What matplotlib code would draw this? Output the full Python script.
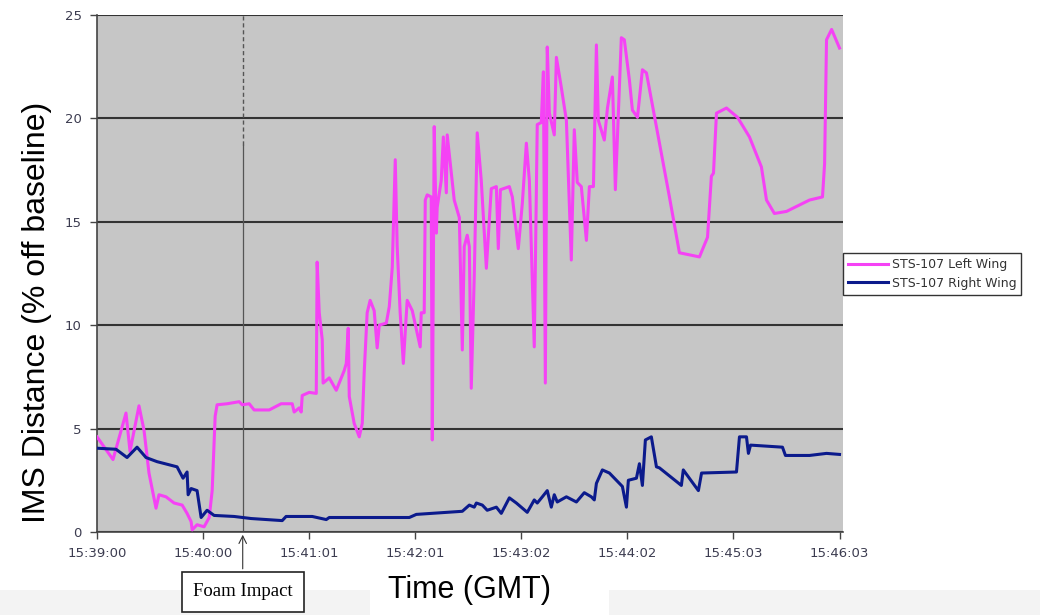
import matplotlib
matplotlib.use("Agg")
import matplotlib.pyplot as plt
from matplotlib.patches import Rectangle

# seconds after 15:39:00 and IMS distance (% off baseline)
left_t = [0, 9.1, 16.5, 18.8, 23.9, 26.8, 29.6, 33.6, 35.3, 39.3, 43.9, 48.5, 51.3, 53.6, 54.2,
          57.0, 61.0, 63.9, 65.6, 67.3, 68.4, 74.1, 81.0, 82.7, 86.7, 89.5, 98.1, 104.9, 111.2,
          112.3, 115.2, 116.3, 116.9, 120.9, 124.9, 125.4, 126.6, 128.3, 128.8, 132.3, 136.3,
          140.8, 142.0, 143.1, 143.7, 146.5, 149.4, 151.1, 152.2, 153.9, 155.6, 157.9, 159.6,
          160.8, 164.8, 166.5, 168.2, 169.9, 171.0, 172.7, 174.5, 176.7, 179.6, 184.1, 184.7,
          186.4, 187.0, 188.1, 190.4, 191.0, 192.1, 193.3, 193.8, 196.1, 197.3, 199.0, 199.5,
          203.5, 206.4, 208.1, 209.2, 210.9, 212.1, 213.2, 214.9, 216.6, 218.9, 221.8, 224.6,
          227.5, 228.6, 229.8, 234.9, 236.6, 240.0, 242.3, 244.6, 246.3, 249.1, 250.8, 253.1,
          254.3, 255.4, 256.5, 257.7, 260.5, 261.7, 264.5, 267.4, 270.2, 271.9, 273.6, 275.9,
          278.8, 280.5, 282.8, 284.5, 285.6, 289.0, 290.8, 293.6, 295.3, 298.7, 300.4, 303.3,
          305.0, 307.9, 310.7, 313.0, 326.1, 331.8, 343.2, 347.8, 350.0, 351.2, 352.9, 358.6,
          364.9, 371.7, 378.5, 381.4, 385.9, 392.8, 405.9, 413.3, 414.5, 415.6, 418.5, 423]
left_v = [4.6, 3.5, 5.75, 3.9, 6.1, 4.9, 2.85, 1.15, 1.8, 1.7, 1.4, 1.3, 0.9, 0.5, 0.1,
          0.35, 0.25, 0.7, 2.0, 5.6, 6.15, 6.2, 6.3, 6.15, 6.2, 5.9, 5.9, 6.2, 6.2,
          5.8, 6.0, 5.8, 6.6, 6.75, 6.7, 13.05, 10.6, 9.3, 7.2, 7.45, 6.85,
          7.8, 8.15, 9.85, 6.55, 5.25, 4.6, 5.25, 7.7, 10.6, 11.2, 10.7, 8.9,
          10.0, 10.1, 10.9, 12.8, 18.0, 13.8, 10.6, 8.15, 11.2, 10.7, 8.95, 10.6,
          10.6, 16.05, 16.3, 16.2, 4.45, 19.6, 14.45, 15.7, 17.0, 19.1, 16.4, 19.2,
          16.05, 15.2, 8.8, 13.8, 14.35, 13.8, 6.95, 12.35, 19.3, 17.0, 12.75, 16.6,
          16.7, 13.7, 16.55, 16.7, 16.2, 13.7, 15.9, 18.8, 17.0, 8.95, 19.7, 19.8,
          22.25, 7.2, 23.45, 20.25, 19.2, 22.95, 21.5, 19.9, 13.15, 19.45, 16.9, 16.7,
          14.1, 16.7, 16.7, 23.55, 19.9, 18.95, 20.5, 22.0, 16.55, 23.9, 23.8, 21.85,
          20.4, 20.05, 22.35, 22.2, 16.2, 13.5, 13.3, 14.25, 17.2, 17.35, 20.25, 20.5,
          20.05, 19.1, 17.65, 16.05, 15.4, 15.5, 16.05, 16.2, 17.8, 23.8, 24.3, 23.4]

right_t = [0, 10.8, 17.1, 22.8, 27.9, 34.2, 45.6, 49.0, 51.3, 51.9, 53.6, 57.0, 59.3, 62.7,
           66.7, 78.1, 87.8, 105.5, 107.7, 122.6, 130.6, 132.3, 177.9, 181.9, 208.1, 212.1,
           214.9, 216.1, 219.5, 222.3, 227.5, 230.3, 234.9, 238.9, 245.1, 249.1, 250.8, 253.7,
           256.5, 258.8, 260.5, 262.2, 267.4, 273.1, 277.6, 281.6, 283.3, 284.5, 287.9, 291.9,
           299.3, 301.6, 302.7, 307.3, 309.0, 310.7, 312.4, 315.8, 318.7, 320.4, 332.9, 334.0,
           342.6, 344.4, 364.3, 366.0, 370.0, 371.1, 372.3, 390.5, 392.2, 405.9, 415.6, 423]
right_v = [4.05, 4.0, 3.6, 4.1, 3.6, 3.4, 3.15, 2.6, 2.9, 1.8, 2.1, 2.0, 0.7, 1.05,
           0.8, 0.75, 0.65, 0.55, 0.75, 0.75, 0.6, 0.7, 0.7, 0.85, 1.0, 1.3,
           1.2, 1.4, 1.3, 1.05, 1.2, 0.9, 1.65, 1.4, 0.95, 1.55, 1.4, 1.7,
           2.0, 1.2, 1.8, 1.45, 1.7, 1.45, 1.9, 1.7, 1.55, 2.35, 3.0, 2.85,
           2.2, 1.2, 2.5, 2.6, 3.3, 2.25, 4.45, 4.6, 3.15, 3.1, 2.25, 3.0,
           2.0, 2.85, 2.9, 4.6, 4.6, 3.8, 4.2, 4.1, 3.7, 3.7, 3.8, 3.75]

tick_t = [0, 60.43, 120.86, 181.29, 241.71, 302.14, 362.57, 423]
tick_labels = ['15:39:00', '15:40:00', '15:41:01', '15:42:01', '15:43:02', '15:44:02',
               '15:45:03', '15:46:03']
foam_t = 83
series_names = ['STS-107 Left Wing', 'STS-107 Right Wing']

fig = plt.figure(figsize=(10.4, 6.15), dpi=100)
fig.patch.set_facecolor('white')

# light slide band at the bottom, with a white patch behind the axis title
fig.add_artist(Rectangle((0, 0), 1, 0.04, transform=fig.transFigure,
                         facecolor='#f3f3f3', edgecolor='none', zorder=0))
fig.add_artist(Rectangle((0.356, 0), 0.23, 0.09, transform=fig.transFigure,
                         facecolor='white', edgecolor='none', zorder=0))

ax = fig.add_axes([0.0933, 0.135, 0.7173, 0.8407])
ax.set_facecolor('#c6c6c6')

ax.plot(left_t, left_v, color='#f542f5', lw=2.2, label=series_names[0], zorder=3)
ax.plot(right_t, right_v, color='#0b1a8c', lw=2.2, label=series_names[1], zorder=3)

ax.set_xlim(0, 425)
ax.set_ylim(0, 25)
ax.set_yticks([0, 5, 10, 15, 20, 25])
ax.set_xticks(tick_t)
ax.set_xticklabels(tick_labels)
ax.grid(axis='y', color='#333333', lw=1.5, zorder=1)
ax.set_axisbelow(True)

for s in ['top', 'right']:
    ax.spines[s].set_visible(False)
for s in ['left', 'bottom']:
    ax.spines[s].set_color('#444444')
    ax.spines[s].set_linewidth(1.2)
ax.tick_params(axis='both', direction='out', length=5, width=1, color='#444444',
               labelsize=9.5, labelcolor='#3c3c50', pad=6)

# axis titles placed where the slide has them
fig.text(37 / 1040, 1 - 312 / 615, 'IMS Distance (% off baseline)', rotation=90,
         ha='center', va='center', fontsize=23, family='Liberation Sans')
fig.text(470 / 1040, 1 - 590 / 615, 'Time (GMT)', ha='center', va='center',
         fontsize=22, family='Liberation Sans')

# foam impact marker
ax.plot([foam_t, foam_t], [18.7, 25], color='#555555', lw=1.0, ls=(0, (3, 2)), zorder=2)
ax.plot([foam_t, foam_t], [0, 18.7], color='#555555', lw=0.9, zorder=2)
ax.annotate('Foam Impact', xy=(foam_t, 0), xycoords='data',
            xytext=(foam_t, -0.116), textcoords=ax.get_xaxis_transform(),
            ha='center', va='center', fontsize=13.5, family='Liberation Serif',
            bbox=dict(boxstyle='square,pad=0.6', fc='white', ec='#222222', lw=1.2),
            arrowprops=dict(arrowstyle='->', color='#333333', lw=0.8),
            annotation_clip=False)

leg = fig.legend(loc='upper left', bbox_to_anchor=(0.8106, 0.5886), fontsize=9,
                 frameon=True, fancybox=False, handlelength=3.2, handletextpad=0.3,
                 borderpad=0.4, labelspacing=0.45, borderaxespad=0)
leg.get_frame().set_edgecolor('black')
leg.get_frame().set_linewidth(1)
for t in leg.get_texts():
    t.set_color('#333333')

fig.savefig('out.png', dpi=100)
